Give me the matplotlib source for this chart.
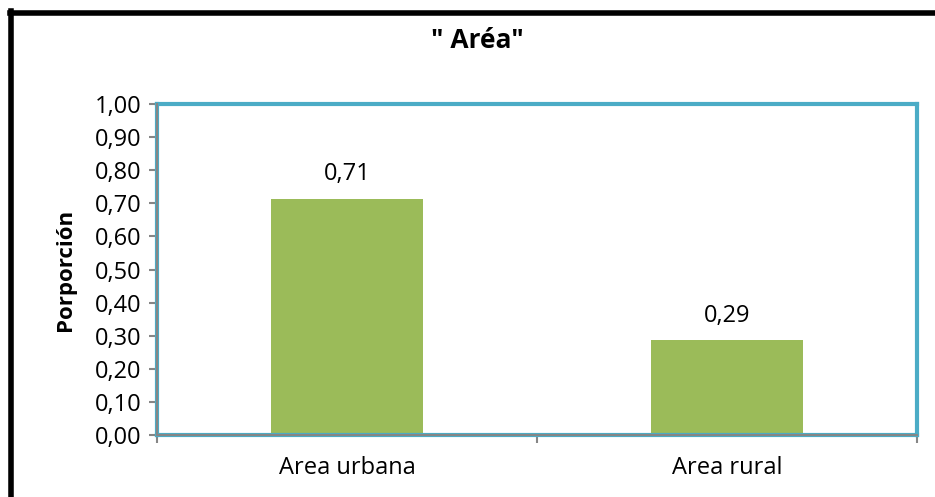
import matplotlib.pyplot as plt
from matplotlib.ticker import FixedLocator, FuncFormatter
from matplotlib.lines import Line2D

# data
categories = ["Area urbana", "Area rural"]
values = [0.714, 0.286]
value_labels = ["0,71", "0,29"]
title = '" Aréa"'
y_label = "Porporción"

plt.rcParams['font.family'] = ['Open Sans', 'DejaVu Sans']

fig = plt.figure(figsize=(9.35, 4.97), dpi=100)
ax = fig.add_axes([157 / 935, 62 / 497, 760 / 935, 331 / 497])

x = list(range(len(categories)))
bars = ax.bar(x, values, width=0.4, color='#9BBB59', zorder=2)

for xi, v, lab in zip(x, values, value_labels):
    ax.annotate(lab, (xi, v), xytext=(0, 9), textcoords='offset points',
                ha='center', va='bottom', fontsize=17)

ax.set_xlim(-0.5, len(categories) - 0.5)
ax.set_ylim(0, 1.0)

# y ticks 0,00 .. 1,00
ax.set_yticks([i / 10 for i in range(11)])
ax.yaxis.set_major_formatter(FuncFormatter(lambda v, p: ("%.2f" % v).replace('.', ',')))

# x: tick marks between categories, labels in the middle
ax.xaxis.set_major_locator(FixedLocator([-0.5, 0.5, 1.5]))
ax.xaxis.set_major_formatter(FuncFormatter(lambda v, p: ""))
ax.xaxis.set_minor_locator(FixedLocator(x))
ax.set_xticklabels(categories, minor=True)

ax.tick_params(axis='both', which='major', color='#868686', width=1.5, length=6,
               direction='out', labelsize=17)
ax.tick_params(axis='x', which='minor', length=0, labelsize=17, pad=15)
ax.tick_params(axis='y', pad=5)

# plot area border (teal)
for s in ax.spines.values():
    s.set_color('#4BACC6')
    s.set_linewidth(3)

# gray axis lines
ax.add_line(Line2D([0, 1], [0, 0], transform=ax.transAxes, color='#868686',
                   lw=1.5, clip_on=False, zorder=5))
ax.add_line(Line2D([0, 0], [0, 1], transform=ax.transAxes, color='#868686',
                   lw=1.5, clip_on=False, zorder=5))

ax.set_ylabel(y_label, fontsize=16, fontweight='bold', labelpad=14)
fig.text(477 / 935, 1 - 40 / 497, title, ha='center', va='center',
         fontsize=19, fontweight='bold')

# outer black frame (top and left only visible)
fig.add_artist(Line2D([10 / 935, 1.0], [1 - 13 / 497, 1 - 13 / 497],
                      transform=fig.transFigure, color='black', lw=4))
fig.add_artist(Line2D([10.5 / 935, 10.5 / 935], [0, 1 - 11 / 497],
                      transform=fig.transFigure, color='black', lw=4))

fig.savefig("out.png", dpi=100)
